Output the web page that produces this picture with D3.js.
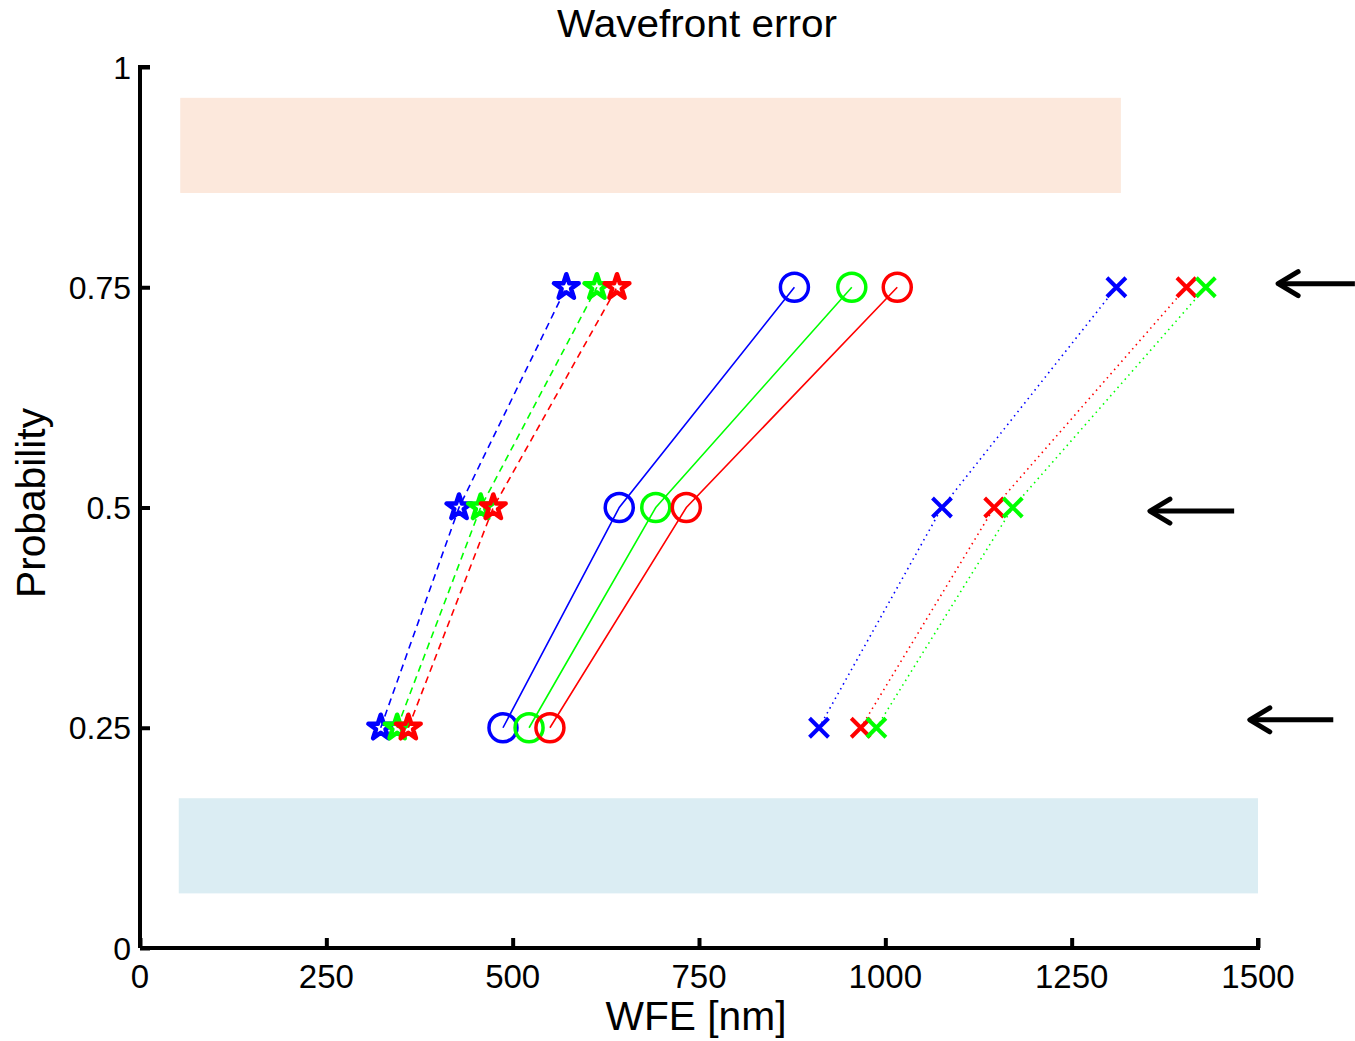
<!DOCTYPE html>
<html><head><meta charset="utf-8">
<script src="https://cdn.jsdelivr.net/npm/d3@7"></script>
<style>body{margin:0;background:#fff;} text{font-family:"Liberation Sans",Arial,sans-serif;}</style>
</head><body><svg id="c" width="1355" height="1041"></svg>
<script>
const probs = [0.25, 0.5, 0.75];
const starBlue = [323, 428, 572];
const starGreen = [345, 457, 613];
const starRed = [360, 474, 640];
const circBlue = [487, 643, 878];
const circGreen = [522, 692, 955];
const circRed = [550, 733, 1016];
const xBlue = [911, 1076, 1310];
const xRed = [967, 1146, 1404];
const xGreen = [988, 1171, 1430];
const xTicks = [0, 250, 500, 750, 1000, 1250, 1500];
const yTicks = [0, 0.25, 0.5, 0.75, 1];
const yTickLabels = ["0", "0.25", "0.5", "0.75", "1"];
const bandTop = [54, 1316, 0.857, 0.965];
const bandBottom = [52, 1500, 0.062, 0.170];
const arrowY = [0.754, 0.496, 0.259];
const arrowTip = [1527, 1355, 1489];
const arrowTail = [1630, 1468, 1601];

const svg = d3.select("#c");
const x = d3.scaleLinear().domain([0, 1500]).range([140, 1258]);
const y = d3.scaleLinear().domain([0, 1]).range([948, 67]);

// bands
svg.append("rect").attr("x", x(bandTop[0])).attr("width", x(bandTop[1]) - x(bandTop[0]))
  .attr("y", y(bandTop[3])).attr("height", y(bandTop[2]) - y(bandTop[3])).attr("fill", "#fce8dc");
svg.append("rect").attr("x", x(bandBottom[0])).attr("width", x(bandBottom[1]) - x(bandBottom[0]))
  .attr("y", y(bandBottom[3])).attr("height", y(bandBottom[2]) - y(bandBottom[3])).attr("fill", "#dbedf3");

// axes
const xAxis = d3.axisTop(x).tickValues(xTicks).tickSize(10).tickFormat("");
const gx = svg.append("g").attr("transform", `translate(0,${y(0)})`).call(xAxis);
const yAxis = d3.axisRight(y).tickValues(yTicks).tickSize(10).tickFormat("");
const gy = svg.append("g").attr("transform", `translate(${x(0)},0)`).call(yAxis);
[gx, gy].forEach(g => {
  g.select(".domain").attr("stroke", "#000").attr("stroke-width", 4).attr("fill", "none");
  g.selectAll(".tick line").attr("stroke", "#000").attr("stroke-width", 4);
});
gx.select(".domain").attr("d", `M${x(0)},0H${x(1500)}V-10`);
gy.select(".domain").attr("d", `M0,${y(0)}V${y(1)}H10`);

svg.selectAll(".xl").data(xTicks).enter().append("text")
  .attr("x", d => x(d)).attr("y", 988).attr("text-anchor", "middle")
  .attr("font-size", 33).text(d => d);
svg.selectAll(".yl").data(yTicks).enter().append("text")
  .attr("x", 131).attr("y", d => y(d) + 11.5).attr("text-anchor", "end")
  .attr("font-size", 32).text((d, i) => yTickLabels[i]);

svg.append("text").attr("x", 697).attr("y", 37).attr("text-anchor", "middle").attr("font-size", 38)
  .attr("textLength", 280).attr("lengthAdjust", "spacingAndGlyphs").text("Wavefront error");
svg.append("text").attr("x", 696).attr("y", 1030).attr("text-anchor", "middle").attr("font-size", 41)
  .attr("textLength", 181).attr("lengthAdjust", "spacingAndGlyphs").text("WFE [nm]");
svg.append("text").attr("transform", "translate(45,503) rotate(-90)").attr("text-anchor", "middle").attr("font-size", 41)
  .attr("textLength", 190).attr("lengthAdjust", "spacingAndGlyphs").text("Probability");

const line = d3.line().x(d => x(d[0])).y(d => y(d[1]));
function series(vals, color, dash, marker) {
  const pts = vals.map((v, i) => [v, probs[i]]);
  svg.append("path").attr("d", line(pts)).attr("fill", "none").attr("stroke", color)
    .attr("stroke-width", 1.6).attr("stroke-dasharray", dash);
  const g = svg.append("g");
  pts.forEach(p => {
    const cx = x(p[0]), cy = y(p[1]);
    if (marker === "star") {
      g.append("path").attr("d", d3.symbol(d3.symbolStar, 190)())
        .attr("transform", `translate(${cx},${cy})`).attr("fill", "none")
        .attr("stroke", color).attr("stroke-width", 4.5).attr("stroke-linejoin", "round");
    } else if (marker === "circle") {
      g.append("circle").attr("cx", cx).attr("cy", cy).attr("r", 14)
        .attr("fill", "none").attr("stroke", color).attr("stroke-width", 3.5);
    } else {
      const s = 9.5;
      g.append("path").attr("d", `M${cx - s},${cy - s}L${cx + s},${cy + s}M${cx - s},${cy + s}L${cx + s},${cy - s}`)
        .attr("stroke", color).attr("stroke-width", 4);
    }
  });
}
series(starBlue, "#0000ff", "7,5", "star");
series(starGreen, "#00ff00", "7,5", "star");
series(starRed, "#ff0000", "7,5", "star");
series(circBlue, "#0000ff", null, "circle");
series(circGreen, "#00ff00", null, "circle");
series(circRed, "#ff0000", null, "circle");
series(xBlue, "#0000ff", "1.5,4", "x");
series(xRed, "#ff0000", "1.5,4", "x");
series(xGreen, "#00ff00", "1.5,4", "x");

// arrows
arrowY.forEach((yy, i) => {
  const tx = x(arrowTip[i]), ex = x(arrowTail[i]), py = y(yy);
  svg.append("path").attr("d", `M${tx + 2},${py}H${ex}`).attr("stroke", "#000").attr("stroke-width", 5);
  svg.append("path").attr("d", `M${tx + 20},${py - 12}L${tx},${py}L${tx + 20},${py + 12}`)
    .attr("stroke", "#000").attr("stroke-width", 5).attr("fill", "none")
    .attr("stroke-linecap", "round").attr("stroke-linejoin", "round");
});
</script></body></html>
